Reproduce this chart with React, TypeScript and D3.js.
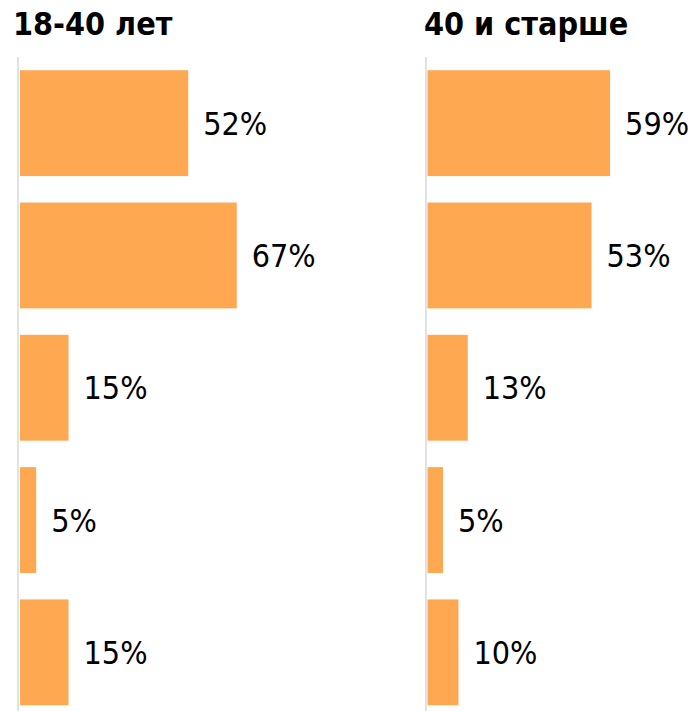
import React from 'react';
import * as d3 from 'd3';

// answer rows (labels unknown in the picture, kept as indices)
const rows = ['a', 'b', 'c', 'd', 'e'];
const young = [52, 67, 15, 5, 15];
const older = [59, 53, 13, 5, 10];
const panelTitles = ['18-40 лет', '40 и старше'];

const W = 696;
const H = 711;
const FONT = '"DejaVu Sans Condensed", "DejaVu Sans", Verdana, sans-serif';
const BAR_COLOR = '#fea852';

const y = d3.scaleBand<string>()
    .domain(rows)
    .range([57, 718.5])
    .paddingInner(0.2)
    .paddingOuter(0.1);

const panels = [
    { title: panelTitles[0], values: young, x0: 18, titleX: 13, x: d3.scaleLinear().domain([0, 100]).range([20, 343.5]) },
    { title: panelTitles[1], values: older, x0: 426, titleX: 424, x: d3.scaleLinear().domain([0, 100]).range([427.5, 737]) },
];

const App = () => {
    return (
        <svg width={W} height={H} style={{ position: 'absolute', left: 0, top: 0, background: '#fff' }}>
            {panels.map((p, pi) => (
                <g key={pi}>
                    <text x={p.titleX} y={35} fontFamily={FONT} fontWeight="bold" fontSize={32} fill="#000">
                        {p.title}
                    </text>
                    {p.values.map((v, i) => {
                        const top = y(rows[i]) as number;
                        const bw = y.bandwidth();
                        return (
                            <g key={i}>
                                <rect x={p.x(0)} y={top} width={p.x(v) - p.x(0)} height={bw} fill={BAR_COLOR} />
                                <text
                                    x={p.x(v) + 15}
                                    y={top + bw / 2 + 11.5}
                                    fontFamily={FONT}
                                    fontSize={32}
                                    fill="#000"
                                >
                                    {v}%
                                </text>
                            </g>
                        );
                    })}
                    <line x1={p.x0} x2={p.x0} y1={57} y2={H} stroke="#d9d9d9" strokeWidth={1.5} />
                </g>
            ))}
        </svg>
    );
};

export default App;
